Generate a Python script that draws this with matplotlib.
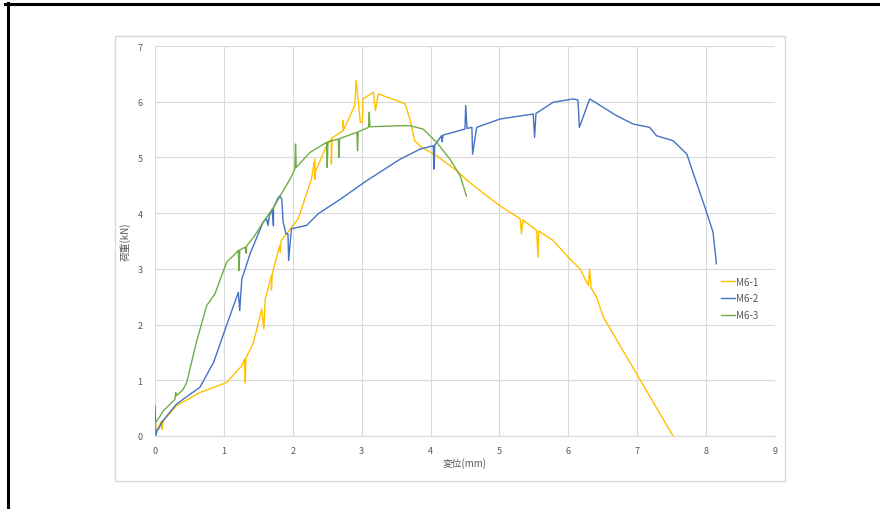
import matplotlib
matplotlib.use("Agg")
import matplotlib.pyplot as plt
from matplotlib.patches import Rectangle
from matplotlib.lines import Line2D

plt.rcParams['font.family'] = ['Noto Sans CJK JP', 'DejaVu Sans']

#  Load-displacement data (x: mm, y: kN).
m61_x = [0.00, 0.10, 0.10, 0.12, 0.31, 0.65, 1.04, 1.26, 1.30, 1.31, 1.32, 1.43, 1.55, 1.58, 1.60,
         1.69, 1.69, 1.70, 1.81, 1.82, 1.83, 1.89, 2.08, 2.27, 2.32, 2.32, 2.33, 2.49, 2.56, 2.56, 2.57,
         2.73, 2.73, 2.74, 2.90, 2.92, 2.98, 3.01, 3.02, 3.17, 3.20, 3.24, 3.51, 3.63, 3.70, 3.77, 3.87,
         4.09, 4.38, 4.52, 4.72, 5.01, 5.30, 5.32, 5.34, 5.54, 5.56, 5.57, 5.78, 6.02, 6.17, 6.29, 6.31,
         6.33, 6.34, 6.41, 6.51, 7.52]
m61_y = [0.07, 0.27, 0.12, 0.27, 0.54, 0.78, 0.96, 1.26, 1.38, 0.96, 1.40, 1.68, 2.28, 1.92, 2.46,
         2.88, 2.62, 2.90, 3.42, 3.30, 3.50, 3.60, 3.90, 4.61, 4.97, 4.61, 4.75, 5.21, 5.33, 4.88, 5.35,
         5.48, 5.66, 5.50, 5.93, 6.38, 5.63, 5.63, 6.05, 6.17, 5.84, 6.14, 6.02, 5.96, 5.69, 5.30, 5.18,
         5.03, 4.76, 4.60, 4.40, 4.13, 3.90, 3.63, 3.88, 3.69, 3.21, 3.68, 3.51, 3.18, 3.00, 2.70, 3.00,
         2.65, 2.64, 2.49, 2.13, 0.00]

m62_x = [0.00, 0.01, 0.03, 0.05, 0.10, 0.31, 0.51, 0.65, 0.85, 1.02, 1.21, 1.23, 1.26, 1.31, 1.38,
         1.57, 1.62, 1.64, 1.66, 1.70, 1.72, 1.72, 1.79, 1.81, 1.84, 1.86, 1.90, 1.93, 1.94, 1.98, 2.20,
         2.37, 2.69, 3.07, 3.56, 3.85, 4.04, 4.05, 4.06, 4.16, 4.17, 4.18, 4.50, 4.51, 4.53, 4.60, 4.61,
         4.67, 5.01, 5.49, 5.51, 5.53, 5.78, 6.07, 6.14, 6.16, 6.31, 6.70, 6.94, 7.18, 7.28, 7.52, 7.72,
         7.81, 7.96, 8.10, 8.15]
m62_y = [0.54, 0.00, 0.10, 0.12, 0.25, 0.57, 0.75, 0.87, 1.32, 1.92, 2.58, 2.25, 2.82, 3.00, 3.27,
         3.84, 3.90, 3.78, 3.95, 4.07, 3.77, 4.10, 4.28, 4.31, 4.25, 3.84, 3.63, 3.63, 3.15, 3.72, 3.78,
         3.99, 4.25, 4.58, 4.97, 5.15, 5.21, 4.79, 5.22, 5.39, 5.28, 5.40, 5.51, 5.93, 5.52, 5.54, 5.06,
         5.54, 5.69, 5.78, 5.36, 5.79, 5.99, 6.05, 6.03, 5.54, 6.05, 5.75, 5.60, 5.54, 5.39, 5.30, 5.06,
         4.73, 4.19, 3.66, 3.09]

m63_x = [0.00, 0.01, 0.05, 0.12, 0.29, 0.30, 0.31, 0.41, 0.46, 0.60, 0.75, 0.87, 1.04, 1.14, 1.21,
         1.22, 1.23, 1.31, 1.32, 1.33, 1.45, 1.57, 1.72, 1.86, 1.96, 2.03, 2.04, 2.05, 2.25, 2.49, 2.50,
         2.51, 2.66, 2.67, 2.68, 2.93, 2.94, 2.95, 3.10, 3.11, 3.12, 3.56, 3.70, 3.89, 4.09, 4.28, 4.43,
         4.52]
m63_y = [0.00, 0.25, 0.31, 0.45, 0.66, 0.78, 0.72, 0.84, 0.96, 1.68, 2.34, 2.55, 3.12, 3.24, 3.33,
         2.97, 3.34, 3.39, 3.28, 3.41, 3.60, 3.84, 4.10, 4.40, 4.61, 4.79, 5.24, 4.82, 5.09, 5.27, 4.82,
         5.28, 5.33, 5.00, 5.34, 5.45, 5.12, 5.46, 5.54, 5.81, 5.55, 5.57, 5.57, 5.51, 5.27, 4.97, 4.67,
         4.31]

series_names = ["M6-1", "M6-2", "M6-3"]
series_colors = ["#FFC000", "#4472C4", "#70AD47"]

x_ticks = list(range(0, 10))
y_ticks = list(range(0, 8))


def draw_chart():
	fig = plt.figure(figsize=(8.8, 5.1), dpi=100)
	W, H = 880.0, 510.0

	#  Outer black frame (top and left edges only).
	fig.add_artist(Line2D([5 / W, 1.0], [1 - 4.5 / H, 1 - 4.5 / H], color="black", lw=2.2))
	fig.add_artist(Line2D([7.5 / W, 7.5 / W], [0.0, 1 - 3.5 / H], color="black", lw=2.2))

	#  Chart area border.
	fig.add_artist(Rectangle((115 / W, 1 - 482 / H), 670 / W, 445 / H, fill=False,
	                         edgecolor="#D9D9D9", lw=1.0))

	ax = fig.add_axes([155 / W, 1 - 437 / H, 620 / W, 390 / H])
	data = [(m61_x, m61_y), (m62_x, m62_y), (m63_x, m63_y)]
	for (xs, ys), name, col in zip(data, series_names, series_colors):
		ax.plot(xs, ys, color=col, lw=1.0, label=name, zorder=3)

	ax.set_xlim(0, 9)
	ax.set_ylim(0, 7)
	ax.set_xticks(x_ticks)
	ax.set_yticks(y_ticks)
	ax.grid(True, color="#D9D9D9", lw=0.8)
	ax.set_axisbelow(True)
	for side in ["top", "right", "left"]:
		ax.spines[side].set_visible(False)
	ax.spines["bottom"].set_color("#D9D9D9")
	ax.tick_params(length=0, labelsize=6.5, labelcolor="#595959")
	ax.tick_params(axis="x", pad=7)
	ax.tick_params(axis="y", pad=9)

	ax.set_xlabel("変位(mm)", fontsize=7, color="#595959", labelpad=2)
	ax.set_ylabel("荷重(kN)", fontsize=7, color="#595959", labelpad=5)

	leg = ax.legend(loc="upper left", bbox_to_anchor=(0.907, 0.418), frameon=False,
	                fontsize=7, handlelength=1.4, handletextpad=0.1, labelspacing=0.68,
	                borderaxespad=0)
	for t in leg.get_texts():
		t.set_color("#595959")

	fig.savefig("out.png", dpi=100)


if __name__ == '__main__':
	draw_chart()
